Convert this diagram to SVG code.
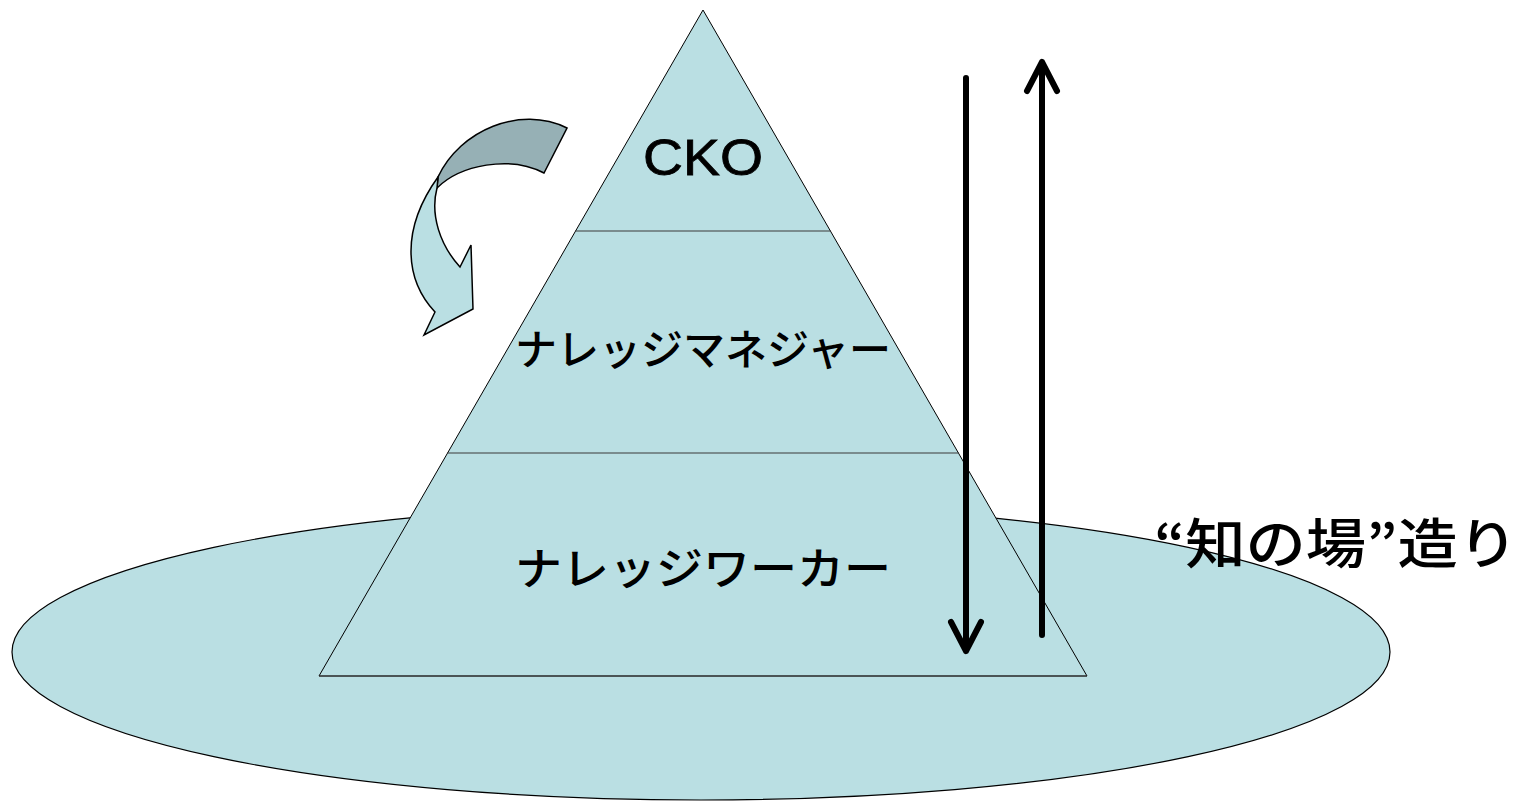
<svg xmlns="http://www.w3.org/2000/svg" width="1522" height="803" viewBox="0 0 1522 803">
<style>
.fill{fill:#badfe3;stroke:#000;stroke-width:1.2}
.tri{fill:#badfe3;stroke:#000;stroke-width:1}
.div{stroke:#3a3a3a;stroke-width:1.2;fill:none}
.arr{stroke:#000;stroke-width:6;fill:none;stroke-linecap:round;stroke-linejoin:round}
.jp{font-family:"Noto Sans CJK JP","Liberation Sans",sans-serif;font-weight:500;fill:#000}
</style>
<rect width="1522" height="803" fill="#fff"/>
<g id="field">
<ellipse class="fill" cx="701" cy="652" rx="689" ry="148"/>
</g>
<g id="pyramid">
<polygon class="tri" points="703,10 319,676 1087,676"/>
<line class="div" x1="575" y1="231" x2="831" y2="231"/>
<line class="div" x1="447" y1="453" x2="959" y2="453"/>
<line class="div" x1="319" y1="676" x2="1087" y2="676"/>
</g>
<g id="cko">
<text x="703" y="175" text-anchor="middle" font-family="Liberation Sans, Arial, sans-serif" font-size="50" stroke="#000" stroke-width="0.8" textLength="120" lengthAdjust="spacingAndGlyphs">CKO</text>
</g>
<g id="manager">
<text class="jp" x="703" y="365" text-anchor="middle" font-size="42" textLength="376" lengthAdjust="spacingAndGlyphs">ナレッジマネジャー</text>
</g>
<g id="worker">
<text class="jp" x="703" y="585" text-anchor="middle" font-size="44" textLength="376" lengthAdjust="spacingAndGlyphs">ナレッジワーカー</text>
</g>
<g id="ba">
<text class="jp" x="1154" y="564" font-size="54" textLength="364" lengthAdjust="spacingAndGlyphs">“知の場”造り</text>
</g>
<g id="curved-arrow">
<path d="M438,177 C460,130 520,105 567,128 L544,173 C510,155 460,165 437,188 Z" fill="#96b0b5" stroke="#000" stroke-width="1.5"/>
<path d="M438,177 C400,230 405,280 435,312 L424,335 L473,309 L471,245 L460,267 C440,245 430,215 437,188 Z" fill="#badfe3" stroke="#000" stroke-width="1.5"/>
</g>
<g id="connectors">
<path class="arr" d="M966,78 V651 M951,622 L966,651 L981,622"/>
<path class="arr" d="M1042,635 V62 M1027,91 L1042,62 L1057,91"/>
</g>
</svg>
